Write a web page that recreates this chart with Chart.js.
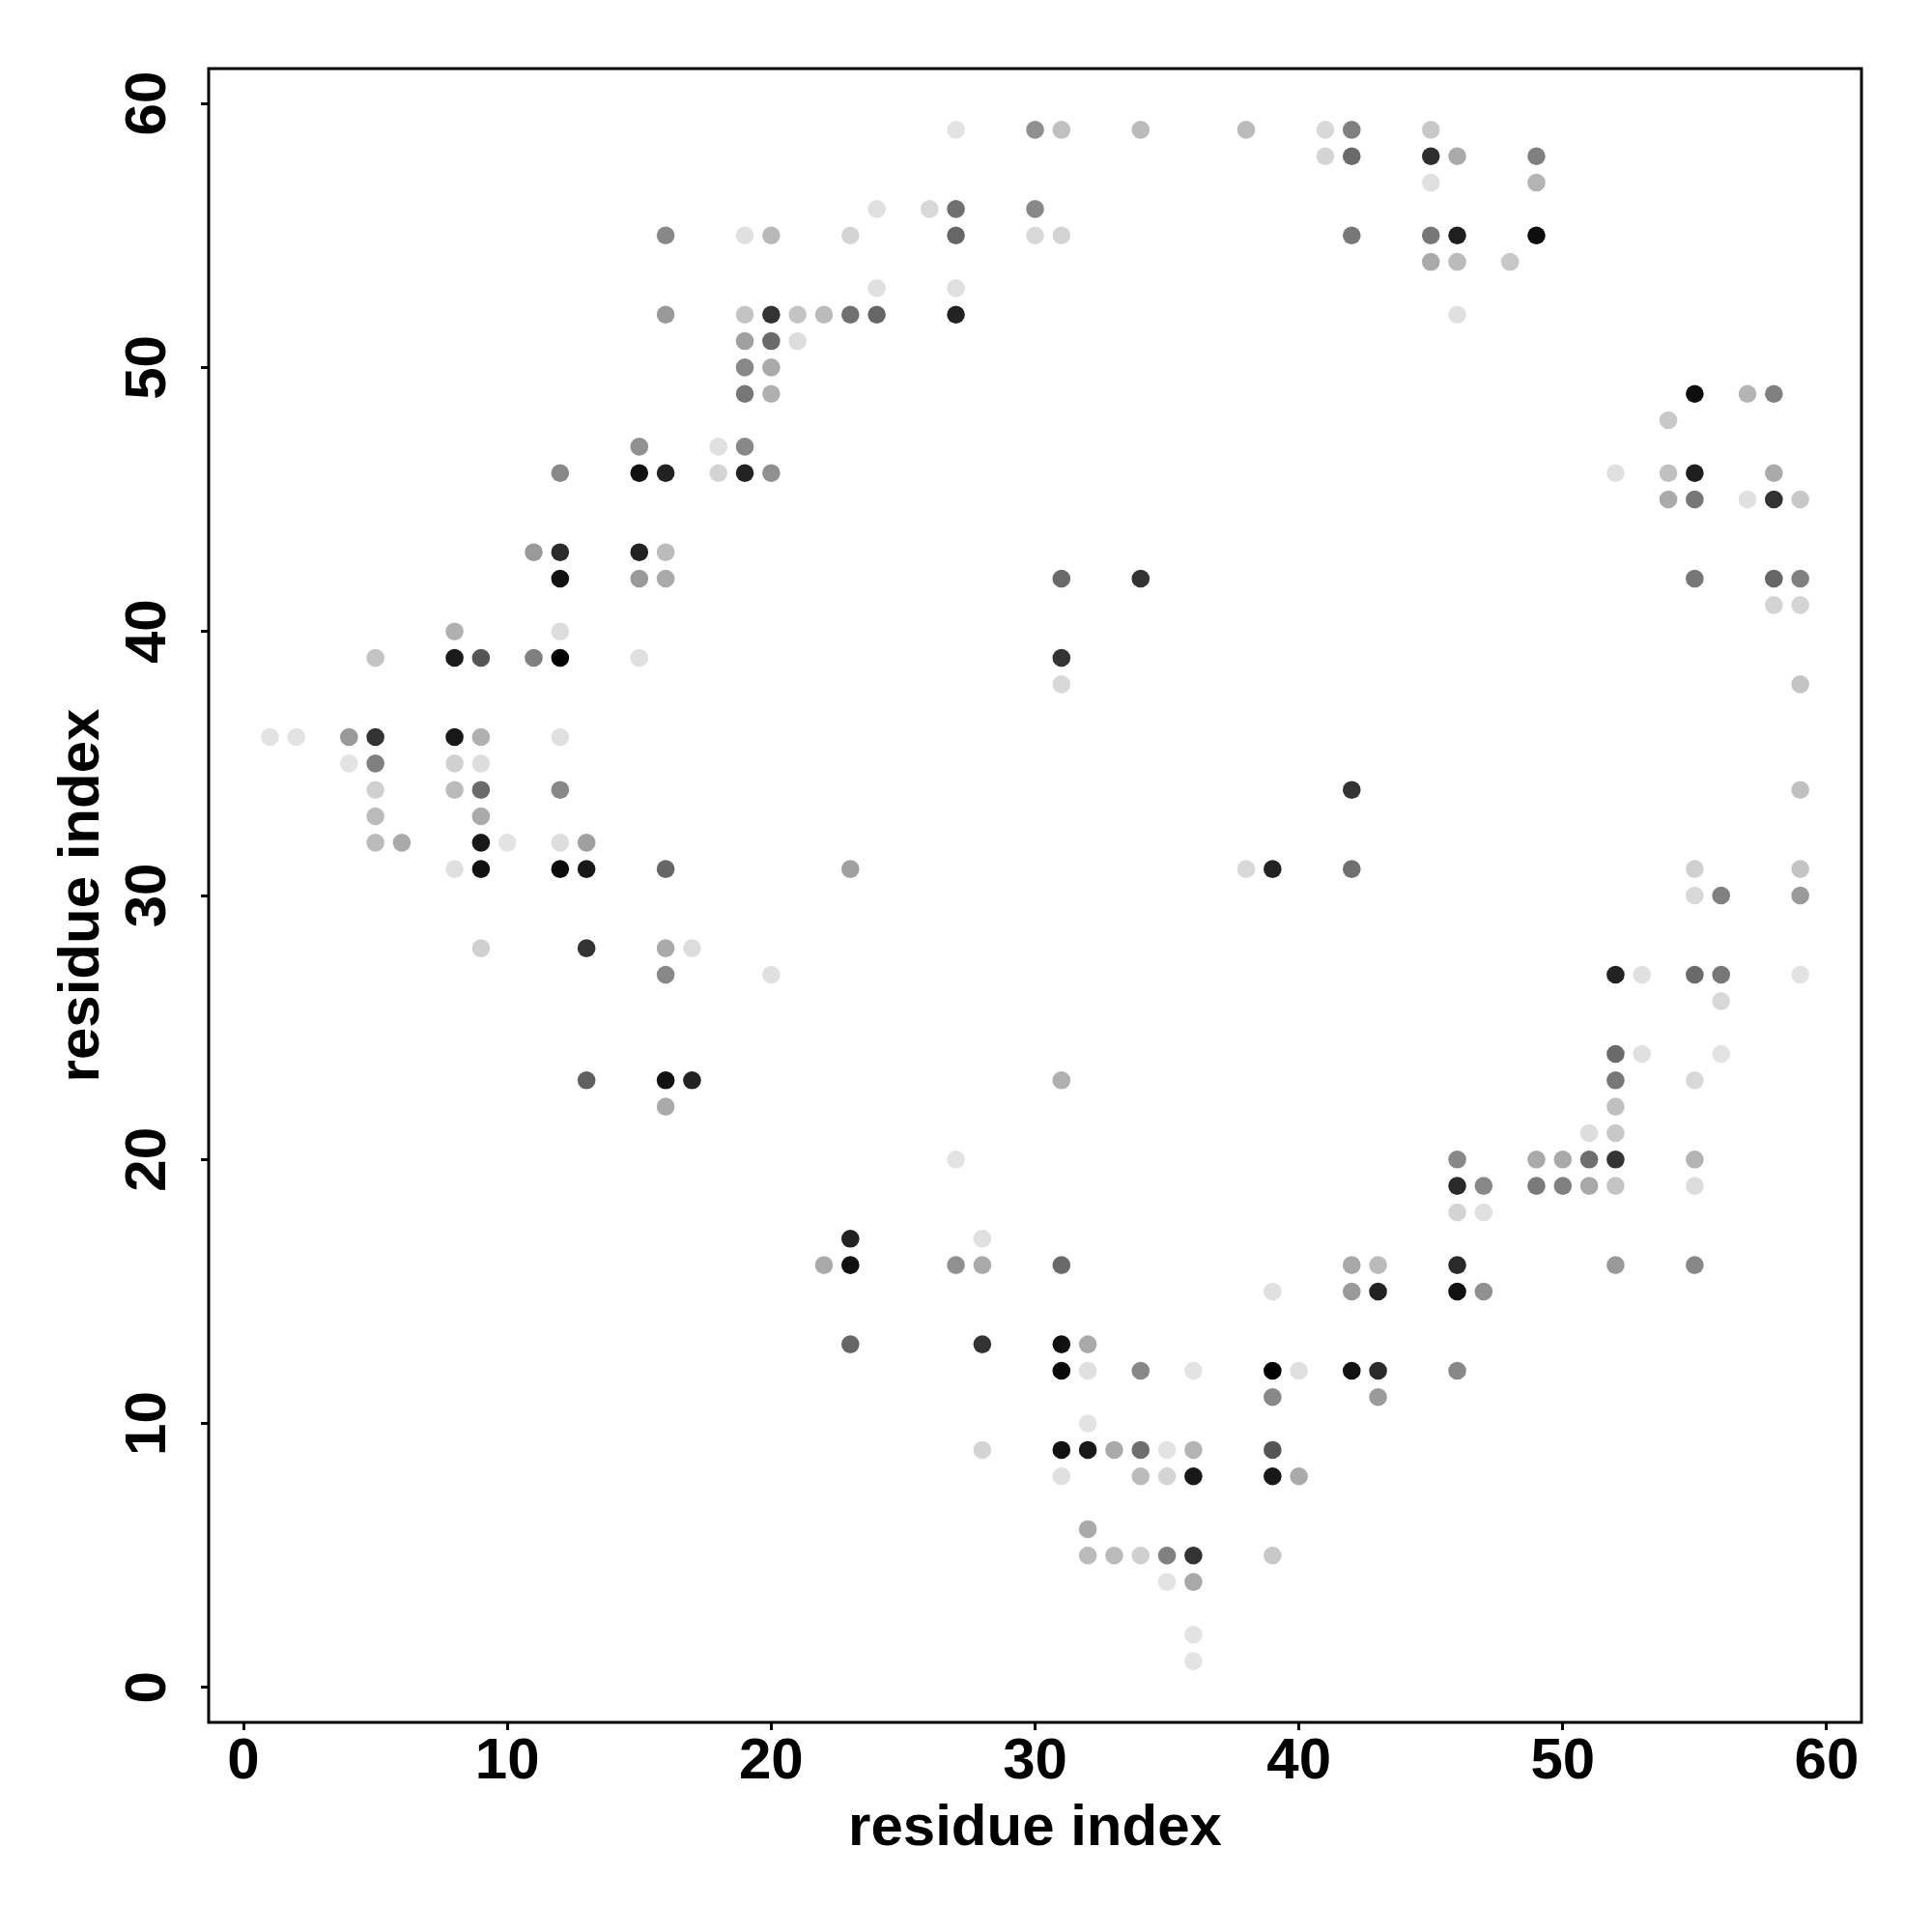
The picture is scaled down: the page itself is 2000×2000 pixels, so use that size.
<!DOCTYPE html>
<html>
<head>
<meta charset="utf-8">
<title>residue contact map</title>
<script src="https://cdn.jsdelivr.net/npm/chart.js@4.4.1/dist/chart.umd.min.js"></script>
<style>
	html, body { margin:0; padding:0; background:#fff; }
	#wrap { width:2000px; height:2000px; }
</style>
</head>
<body>
<div id="wrap"><canvas id="contactMap" width="2000" height="2000"></canvas></div>
<script>
	/**
	 * contact data (residue i, residue j, grey shade 0=black .. 255=white), row by row from the top
	 */
	const resI = [
		27,30,31,34,38,41,42,45,            // 59
		41,42,45,46,49,                     // 58
		45,49,                              // 57
		24,26,27,30,                        // 56
		16,19,20,23,27,30,31,42,45,46,49,   // 55
		45,46,48,                           // 54
		24,27,                              // 53
		16,19,20,21,22,23,24,27,46,         // 52
		19,20,21,                           // 51
		19,20,                              // 50
		19,20,55,57,58,                     // 49
		54,                                 // 48
		15,18,19,                           // 47
		12,15,16,18,19,20,52,54,55,58,      // 46
		54,55,57,58,59,                     // 45
		11,12,15,16,                        // 43
		12,15,16,31,34,55,58,59,            // 42
		58,59,                              // 41
		8,12,                               // 40
		5,8,9,11,12,15,31,                  // 39
		31,59,                              // 38
		1,2,4,5,8,9,12,                     // 36
		4,5,8,9,                            // 35
		5,8,9,12,42,59,                     // 34
		5,9,                                // 33
		5,6,9,10,12,13,                     // 32
		8,9,12,13,16,23,38,39,42,55,59,     // 31
		55,56,59,                           // 30
		9,13,16,17,                         // 28
		16,20,52,53,55,56,59,               // 27
		56,                                 // 26
		52,53,56,                           // 24
		13,16,17,31,52,55,                  // 23
		16,52,                              // 22
		51,52,                              // 21
		27,46,49,50,51,52,55,               // 20
		46,47,49,50,51,52,55,               // 19
		46,47,                              // 18
		23,28,                              // 17
		22,23,27,28,31,42,43,46,52,55,      // 16
		39,42,43,46,47,                     // 15
		23,28,31,32,                        // 13
		31,32,34,36,39,40,42,43,46,         // 12
		39,43,                              // 11
		32,                                 // 10
		28,31,32,33,34,35,36,39,            // 9
		31,34,35,36,39,40,                  // 8
		32,                                 // 6
		32,33,34,35,36,39,                  // 5
		35,36,                              // 4
		36,                                 // 2
		36                                  // 1
	];
	const resJ = [
		59,59,59,59,59,59,59,59,
		58,58,58,58,58,
		57,57,
		56,56,56,56,
		55,55,55,55,55,55,55,55,55,55,55,
		54,54,54,
		53,53,
		52,52,52,52,52,52,52,52,52,
		51,51,51,
		50,50,
		49,49,49,49,49,
		48,
		47,47,47,
		46,46,46,46,46,46,46,46,46,46,
		45,45,45,45,45,
		43,43,43,43,
		42,42,42,42,42,42,42,42,
		41,41,
		40,40,
		39,39,39,39,39,39,39,
		38,38,
		36,36,36,36,36,36,36,
		35,35,35,35,
		34,34,34,34,34,34,
		33,33,
		32,32,32,32,32,32,
		31,31,31,31,31,31,31,31,31,31,31,
		30,30,30,
		28,28,28,28,
		27,27,27,27,27,27,27,
		26,
		24,24,24,
		23,23,23,23,23,23,
		22,22,
		21,21,
		20,20,20,20,20,20,20,
		19,19,19,19,19,19,19,
		18,18,
		17,17,
		16,16,16,16,16,16,16,16,16,16,
		15,15,15,15,15,
		13,13,13,13,
		12,12,12,12,12,12,12,12,12,
		11,11,
		10,
		9,9,9,9,9,9,9,9,
		8,8,8,8,8,8,
		6,
		5,5,5,5,5,5,
		4,4,
		2,
		1
	];
	const shade = [
		0xe3,0x90,0xc0,0xbb,0xbb,0xd8,0x80,0xc8,
		0xd4,0x6a,0x2e,0xaa,0x80,
		0xe0,0xb4,
		0xe0,0xd8,0x70,0x88,
		0x88,0xe0,0xb8,0xd4,0x66,0xd8,0xd4,0x77,0x77,0x1e,0x0e,
		0xaa,0xbb,0xc8,
		0xe0,0xe0,
		0x99,0xc4,0x33,0xc4,0xbb,0x70,0x66,0x22,0xe0,
		0xa0,0x6a,0xdd,
		0x88,0xaa,
		0x77,0xb0,0x0e,0xb4,0x80,
		0xc8,
		0x90,0xe0,0x88,
		0x88,0x11,0x22,0xd4,0x22,0x90,0xe0,0xc0,0x1e,0xaa,
		0xaa,0x77,0xe0,0x33,0xc8,
		0x99,0x2a,0x22,0xbb,
		0x11,0x99,0xaa,0x6a,0x33,0x77,0x66,0x80,
		0xd4,0xd4,
		0xb0,0xdd,
		0xc4,0x1a,0x55,0x80,0x00,0xe0,0x33,
		0xd8,0xc4,
		0xe3,0xe3,0x99,0x33,0x18,0xb0,0xe0,
		0xe3,0x80,0xd0,0xdd,
		0xd0,0xbb,0x6a,0x88,0x33,0xc0,
		0xbb,0xaa,
		0xbb,0xaa,0x18,0xe3,0xdd,0xa0,
		0xe0,0x11,0x0a,0x18,0x66,0xa0,0xd8,0x22,0x70,0xd0,0xc4,
		0xd8,0x80,0x9a,
		0xd0,0x33,0xaa,0xdd,
		0x88,0xe0,0x22,0xe0,0x6a,0x77,0xe3,
		0xd8,
		0x6a,0xe0,0xe3,
		0x60,0x11,0x22,0xb0,0x77,0xd8,
		0xaa,0xc0,
		0xdd,0xc8,
		0xe3,0x88,0xaa,0xaa,0x6e,0x33,0xb4,
		0x2a,0x88,0x7a,0x80,0xa8,0xc4,0xdd,
		0xd4,0xe0,
		0x22,0xe0,
		0xaa,0x11,0x90,0xaa,0x6a,0xa8,0xbb,0x2a,0x99,0x88,
		0xe0,0x9a,0x22,0x11,0x90,
		0x66,0x33,0x11,0xaa,
		0x0a,0xe0,0x88,0xe3,0x00,0xe0,0x11,0x2a,0x88,
		0x88,0x9a,
		0xe3,
		0xd4,0x11,0x18,0xaa,0x6e,0xe3,0xb4,0x55,
		0xe0,0xbb,0xd4,0x18,0x18,0xaa,
		0xaa,
		0xbb,0xbb,0xd0,0x80,0x33,0xc8,
		0xe3,0xa8,
		0xe3,
		0xe3
	];
	const tickVals = [0, 10, 20, 30, 40, 50, 60];
	const axisTitle = 'residue index';

	const axisMin = -1.32;
	const axisMax = 61.32;
	const FONT = 'bold 60px "Liberation Sans", Arial, sans-serif';

	let points = resI.map((v, i) => ({ x: v, y: resJ[i] }));
	let colors = shade.map(g => 'rgb(' + g + ',' + g + ',' + g + ')');

	/**
	 * 박스 + 눈금 라벨 + 축 제목
	 */
	const framePlugin = {
		id: 'frame',
		afterDraw(chart) {
			const ctx = chart.ctx;
			const a = chart.chartArea;
			const sx = chart.scales.x, sy = chart.scales.y;
			ctx.save();
			ctx.strokeStyle = '#000';
			ctx.lineWidth = 3;
			ctx.strokeRect(a.left, a.top, a.right - a.left, a.bottom - a.top);

			ctx.fillStyle = '#000';
			ctx.font = FONT;
			ctx.textAlign = 'center';
			ctx.textBaseline = 'alphabetic';
			tickVals.forEach(v => {
				ctx.fillText(String(v), sx.getPixelForValue(v), a.bottom + 58);
			});
			tickVals.forEach(v => {
				ctx.save();
				ctx.translate(a.left - 45, sy.getPixelForValue(v));
				ctx.rotate(-Math.PI / 2);
				ctx.fillText(String(v), 0, 0);
				ctx.restore();
			});
			// axis titles
			ctx.fillText(axisTitle, (a.left + a.right) / 2, a.bottom + 127);
			ctx.save();
			ctx.translate(a.left - 114, (a.top + a.bottom) / 2);
			ctx.rotate(-Math.PI / 2);
			ctx.fillText(axisTitle, 0, 0);
			ctx.restore();
			ctx.restore();
		}
	};

	let axisOpt = (isX) => ({
		type: 'linear',
		min: axisMin,
		max: axisMax,
		afterBuildTicks: s => { s.ticks = tickVals.map(v => ({ value: v })); },
		afterFit: s => { if (isX) { s.height = 217; } else { s.width = 216; } },
		ticks: { display: false },
		border: { display: false },
		grid: {
			display: true,
			drawOnChartArea: false,
			drawTicks: true,
			tickLength: 8,
			tickWidth: 3,
			tickColor: '#000'
		}
	});

	let contactChart = new Chart(document.getElementById('contactMap'), {
		type: 'scatter',
		data: {
			datasets: [{
				label: 'contacts',
				data: points,
				backgroundColor: colors,
				borderWidth: 0,
				pointRadius: 9.3,
				pointHoverRadius: 9.3
			}]
		},
		options: {
			responsive: false,
			maintainAspectRatio: false,
			devicePixelRatio: 1,
			animation: false,
			layout: { padding: { top: 71, right: 73, left: 0, bottom: 0 } },
			plugins: {
				legend: { display: false },
				tooltip: { enabled: false }
			},
			scales: {
				x: axisOpt(true),
				y: axisOpt(false)
			}
		},
		plugins: [framePlugin]
	});
</script>
</body>
</html>
